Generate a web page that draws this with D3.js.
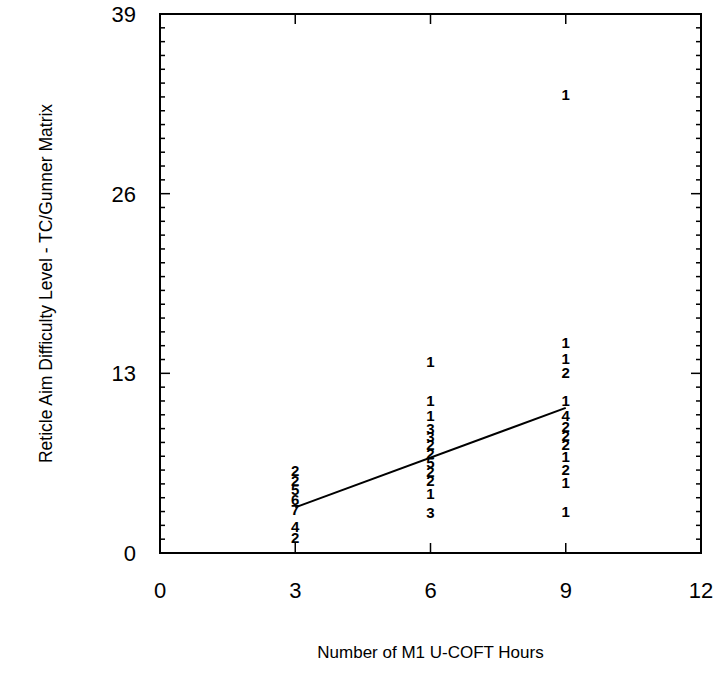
<!DOCTYPE html>
<html>
<head>
<meta charset="utf-8">
<script src="https://cdn.jsdelivr.net/npm/d3@7.9.0/dist/d3.min.js"></script>
<style>
  body { margin: 0; background: #fff; }
  svg text { font-family: "Liberation Sans", Arial, sans-serif; fill: #000; }
</style>
</head>
<body>
<svg id="chart" width="717" height="688"></svg>
<script>
// hours of training (x) for each column of counts
const hours3 = [3, 3, 3, 3, 3, 3, 3];
const level3 = [5.98, 5.25, 4.6, 3.88, 3.15, 1.92, 1.12];
const count3 = ["2", "2", "5", "6", "7", "4", "2"];

const hours6 = [6, 6, 6, 6, 6, 6, 6, 6, 6, 6, 6, 6];
const level6 = [13.88, 11.05, 9.96, 9.02, 8.44, 7.86, 7.21, 6.56, 5.91, 5.25, 4.31, 2.93];
const count6 = ["1", "1", "1", "3", "3", "2", "2", "5", "2", "2", "1", "3"];

const hours9 = [9, 9, 9, 9, 9, 9, 9, 9, 9, 9, 9, 9, 9];
const level9 = [33.15, 15.25, 14.09, 13.08, 11.05, 9.96, 9.17, 8.51, 7.86, 6.99, 6.05, 5.11, 3.01];
const count9 = ["1", "1", "1", "2", "1", "4", "2", "2", "2", "1", "2", "1", "1"];

// regression line
const fitHours = [3, 9];
const fitLevel = [3.3, 10.5];

const xTicks = [0, 3, 6, 9, 12];
const yTicks = [0, 13, 26, 39];

const margin = { top: 14, right: 16, bottom: 135, left: 160 };
const width = 717 - margin.left - margin.right;
const height = 688 - margin.top - margin.bottom;

const svg = d3.select("#chart");
const g = svg.append("g").attr("transform", `translate(${margin.left},${margin.top})`);

const x = d3.scaleLinear().domain([0, 12]).range([0, width]);
const y = d3.scaleLinear().domain([0, 39]).range([height, 0]);

// frame
g.append("rect")
  .attr("width", width).attr("height", height)
  .attr("fill", "none").attr("stroke", "#000").attr("stroke-width", 2);

// left & right minor ticks every unit, longer at 13/26
const minor = d3.range(1, 39);
g.selectAll(".ltick").data(minor).join("line")
  .attr("x1", 0).attr("x2", d => d % 13 === 0 ? 10 : 5)
  .attr("y1", d => y(d)).attr("y2", d => y(d))
  .attr("stroke", "#000").attr("stroke-width", 1.5);
g.selectAll(".rtick").data(minor).join("line")
  .attr("x1", width).attr("x2", d => width - (d % 13 === 0 ? 10 : 5))
  .attr("y1", d => y(d)).attr("y2", d => y(d))
  .attr("stroke", "#000").attr("stroke-width", 1.5);

// top & bottom ticks
const xInner = [3, 6, 9];
g.selectAll(".btick").data(xInner).join("line")
  .attr("x1", d => x(d)).attr("x2", d => x(d))
  .attr("y1", height).attr("y2", height - 10)
  .attr("stroke", "#000").attr("stroke-width", 1.5);
g.selectAll(".ttick").data(xInner).join("line")
  .attr("x1", d => x(d)).attr("x2", d => x(d))
  .attr("y1", 0).attr("y2", 10)
  .attr("stroke", "#000").attr("stroke-width", 1.5);

// tick labels
g.selectAll(".xlab").data(xTicks).join("text")
  .attr("x", d => x(d)).attr("y", height + 45)
  .attr("text-anchor", "middle").attr("font-size", 22)
  .text(d => d);
g.selectAll(".ylab").data(yTicks).join("text")
  .attr("x", -24).attr("y", d => y(d) + 8)
  .attr("text-anchor", "end").attr("font-size", 22)
  .text(d => d);

// axis titles
svg.append("text")
  .attr("x", margin.left + width / 2).attr("y", 658)
  .attr("text-anchor", "middle").attr("font-size", 17)
  .text("Number of M1 U-COFT Hours");
svg.append("text")
  .attr("transform", `translate(52,${margin.top + height / 2}) rotate(-90)`)
  .attr("text-anchor", "middle").attr("font-size", 17.5)
  .text("Reticle Aim Difficulty Level - TC/Gunner Matrix");

// regression line
const line = d3.line().x(d => x(d[0])).y(d => y(d[1]));
g.append("path")
  .datum(d3.zip(fitHours, fitLevel))
  .attr("d", line)
  .attr("fill", "none").attr("stroke", "#000").attr("stroke-width", 2);

// count labels
const pts = [
  ...d3.zip(hours3, level3, count3),
  ...d3.zip(hours6, level6, count6),
  ...d3.zip(hours9, level9, count9)
];
g.selectAll(".cnt").data(pts).join("text")
  .attr("x", d => x(d[0])).attr("y", d => y(d[1]))
  .attr("dy", "0.36em")
  .attr("text-anchor", "middle").attr("font-size", 15).attr("font-weight", "bold")
  .text(d => d[2]);
</script>
</body>
</html>
